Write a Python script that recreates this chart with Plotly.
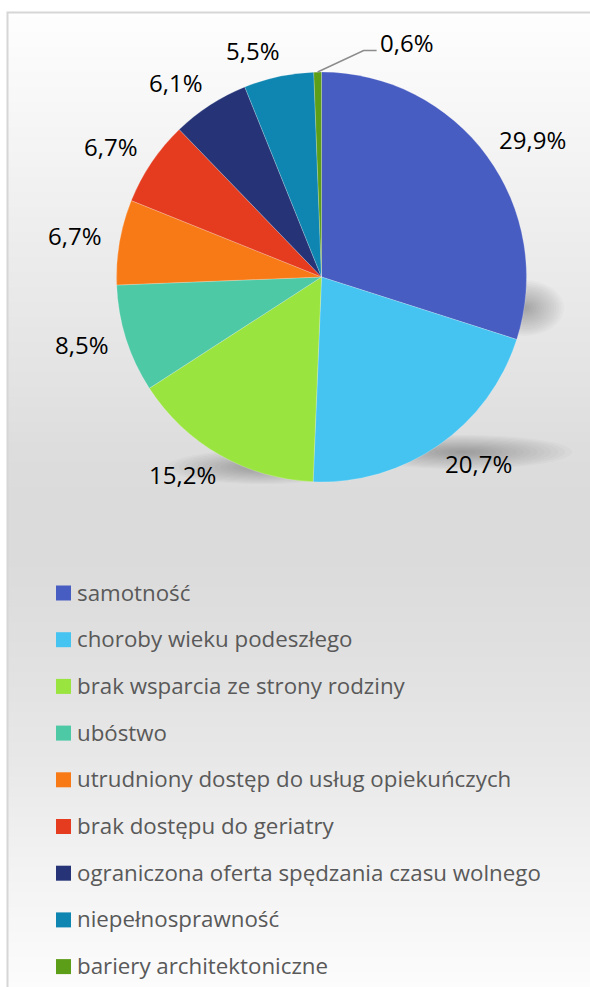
import math
import plotly.graph_objects as go

# Causes and their shares (%)
labels = [
    "samotność",
    "choroby wieku podeszłego",
    "brak wsparcia ze strony rodziny",
    "ubóstwo",
    "utrudniony dostęp do usług opiekuńczych",
    "brak dostępu do geriatry",
    "ograniczona oferta spędzania czasu wolnego",
    "niepełnosprawność",
    "bariery architektoniczne",
]
values = [29.9, 20.7, 15.2, 8.5, 6.7, 6.7, 6.1, 5.5, 0.6]
colors = [
    "#485dc2", "#46c4f1", "#9ae43f", "#4ec9a6", "#f87a16",
    "#e53c1f", "#263477", "#0f86b1", "#5d9e18",
]

W, H = 590, 987
CX, CY, R = 321.5, 277.0, 205.0  # pie centre / radius in pixels


def px(x):
    return x / W


def py(y):
    return 1 - y / H


def pct(v):
    return f"{v:.1f}".replace(".", ",") + "%"


shapes = []

# background: vertical grey gradient inside the frame
stops = [(12, 254), (120, 246), (250, 236), (380, 227), (450, 221), (500, 219),
         (560, 219), (650, 224), (750, 231), (850, 241), (950, 249), (990, 252)]


def grey_at(y):
    for (y0, g0), (y1, g1) in zip(stops, stops[1:]):
        if y0 <= y <= y1:
            return g0 + (g1 - g0) * (y - y0) / (y1 - y0)
    return stops[-1][1]


step = 5
y = 12
while y < H:
    g = round(grey_at(y + step / 2))
    shapes.append(dict(type="rect", xref="paper", yref="paper", layer="below",
                       x0=px(8), x1=1.01, y0=py(y + step + 0.5), y1=py(y),
                       fillcolor=f"rgb({g},{g},{g})", line=dict(width=0)))
    y += step

# frame
shapes.append(dict(type="rect", xref="paper", yref="paper", layer="below",
                   x0=px(7.5), x1=1.02, y0=-0.02, y1=py(12.5),
                   fillcolor="rgba(0,0,0,0)", line=dict(color="#d6d6d6", width=2)))


# soft drop shadow behind the pie (stacked translucent ellipses)
def smear(cx, cy, rx, ry, n=16, a=0.022):
    for k in range(n):
        f = 1 - k / n
        shapes.append(dict(type="circle", xref="paper", yref="paper", layer="below",
                           x0=px(cx - rx * f), x1=px(cx + rx * f),
                           y0=py(cy + ry * f), y1=py(cy - ry * f),
                           fillcolor=f"rgba(60,60,60,{a})", line=dict(width=0)))


smear(524, 308, 40, 28)
smear(262, 467, 95, 17)
smear(462, 452, 110, 17)

annotations = []

# data labels around the pie
total = sum(values)
cum = 0.0
for lab, v in zip(labels, values):
    mid = (cum + v / 2) / total * 2 * math.pi
    cum += v
    s, c = math.sin(mid), math.cos(mid)
    if v < 1:
        ex, ey = CX + R * s, CY - R * c
        kx, ky = ex + 46, ey - 21.5
        shapes.append(dict(type="path", xref="paper", yref="paper",
                           path=f"M{px(ex)},{py(ey)} L{px(kx)},{py(ky)} L{px(kx + 13)},{py(ky)}",
                           line=dict(color="#8c8c8c", width=1.5)))
        annotations.append(dict(x=px(kx + 14), y=py(ky - 8), xref="paper", yref="paper",
                                text=pct(v), showarrow=False, xanchor="left", yanchor="middle",
                                font=dict(family="Open Sans", size=24, color="#000000")))
        continue
    hw = 6.25 * len(pct(v))
    rl = R + 25
    lx = CX + rl * s + math.copysign(hw * 0.8, s)
    ly = CY - rl * c
    annotations.append(dict(x=px(lx), y=py(ly - 2), xref="paper", yref="paper",
                            text=pct(v), showarrow=False, xanchor="center", yanchor="middle",
                            font=dict(family="Open Sans", size=24, color="#000000")))

# legend rows
LY0, LDY = 593.0, 46.7
for i, (lab, col) in enumerate(zip(labels, colors)):
    yy = LY0 + i * LDY
    shapes.append(dict(type="rect", xref="paper", yref="paper",
                       x0=px(56), x1=px(71), y0=py(yy + 7.5), y1=py(yy - 7.5),
                       fillcolor=col, line=dict(width=0)))
    annotations.append(dict(x=px(75), y=py(yy - 1), xref="paper", yref="paper",
                            text=lab, showarrow=False, xanchor="left", yanchor="middle",
                            font=dict(family="Open Sans", size=22.3, color="#595959")))

fig = go.Figure(go.Pie(
    labels=labels,
    values=values,
    sort=False,
    direction="clockwise",
    rotation=0,
    marker=dict(colors=colors, line=dict(color="rgba(255,255,255,0.35)", width=0.6)),
    textinfo="none",
    hoverinfo="label+percent",
    showlegend=False,
    domain=dict(x=[px(CX - R), px(CX + R)], y=[py(CY + R), py(CY - R)]),
))

fig.update_layout(
    width=W, height=H,
    margin=dict(l=0, r=0, t=0, b=0),
    paper_bgcolor="#ffffff",
    plot_bgcolor="#ffffff",
    shapes=shapes,
    annotations=annotations,
    showlegend=False,
)

fig.write_html("out.html")
